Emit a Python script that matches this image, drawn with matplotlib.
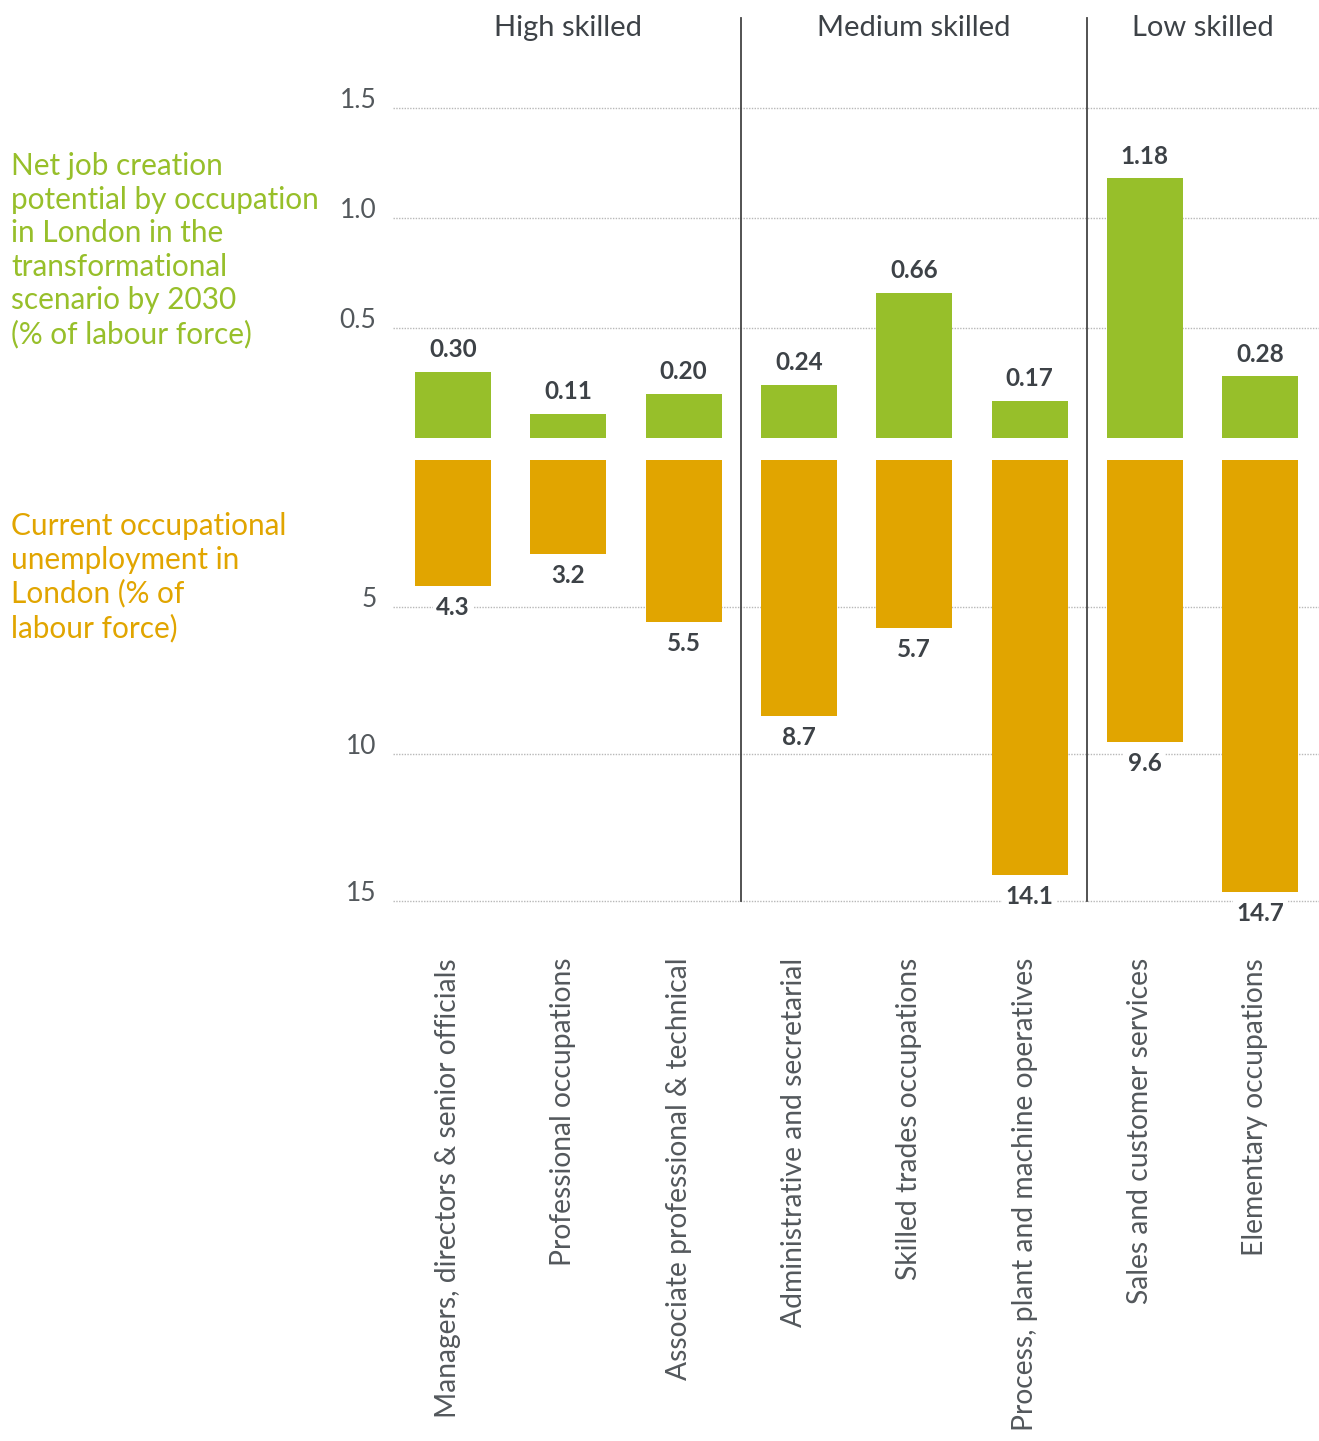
import matplotlib
matplotlib.use("Agg")
import matplotlib.pyplot as plt
from matplotlib.lines import Line2D
import numpy as np

plt.rcParams['font.family'] = ['Lato', 'DejaVu Sans']

categories = ["Managers, directors & senior officials", "Professional occupations",
              "Associate professional & technical", "Administrative and secretarial",
              "Skilled trades occupations", "Process, plant and machine operatives",
              "Sales and customer services", "Elementary occupations"]
job_creation = [0.30, 0.11, 0.20, 0.24, 0.66, 0.17, 1.18, 0.28]
job_labels = ["0.30", "0.11", "0.20", "0.24", "0.66", "0.17", "1.18", "0.28"]
unemployment = [4.3, 3.2, 5.5, 8.7, 5.7, 14.1, 9.6, 14.7]
unemp_labels = ["4.3", "3.2", "5.5", "8.7", "5.7", "14.1", "9.6", "14.7"]
groups = ["High skilled", "Medium skilled", "Low skilled"]
group_sizes = [3, 3, 2]
top_ticks = [0.5, 1.0, 1.5]
top_ticklabels = ["0.5", "1.0", "1.5"]
bot_ticks = [5, 10, 15]
bot_ticklabels = ["5", "10", "15"]

GREEN = "#97bf2a"
ORANGE = "#e1a500"
DARK = "#3d4247"
GRAY = "#53585c"

W, H = 1319, 1441
fig = plt.figure(figsize=(W / 100, H / 100), dpi=100)

def fx(px):
    return px / W

def fy(py):
    return 1 - py / H

ax_left, ax_right = 393, 1319
xlim = ((393 - 453) / 115.3, (1319 - 453) / 115.3)

# top axes: y=0 at 438 px, 220 px per unit
top_bottom_px, top_top_px = 438, 60
top_ymax = (438 - 60) / 220.0
ax1 = fig.add_axes([fx(ax_left), fy(top_bottom_px), fx(ax_right - ax_left),
                    (top_bottom_px - top_top_px) / H])
# bottom axes: y=0 at 460 px, 29.4 px per unit
bot_px = 905
bot_ymax = (bot_px - 460) / 29.4
ax2 = fig.add_axes([fx(ax_left), fy(bot_px), fx(ax_right - ax_left), (bot_px - 460) / H])

x = np.arange(len(categories))
bw = 76 / 115.3

for ax in (ax1, ax2):
    ax.set_xlim(*xlim)
    for s in ax.spines.values():
        s.set_visible(False)
    ax.tick_params(axis='both', length=0)
    ax.set_xticks([])
    ax.set_axisbelow(True)
    ax.grid(axis='y', color="#b8b8b8", linestyle=(0, (1, 1)), linewidth=1.0)

ax1.set_ylim(0, top_ymax)
ax1.set_yticks(top_ticks)
ax1.set_yticklabels(top_ticklabels)
ax2.set_ylim(bot_ymax, 0)
ax2.set_yticks(bot_ticks)
ax2.set_yticklabels(bot_ticklabels)
for ax in (ax1, ax2):
    ax.tick_params(axis='y', pad=12, labelsize=19, labelcolor=GRAY)
    for lab in ax.get_yticklabels():
        lab.set_verticalalignment('baseline')
        lab.set_fontweight('normal')

ax1.bar(x, job_creation, width=bw, color=GREEN, zorder=3)
ax2.bar(x, unemployment, width=bw, color=ORANGE, zorder=3)

for xi, v, lab in zip(x, job_creation, job_labels):
    ax1.annotate(lab, (xi, v), xytext=(0, 16), textcoords='offset points',
                 ha='center', va='center', fontsize=17.5, color=DARK, fontweight='bold',
                 annotation_clip=False, zorder=5,
                 bbox=dict(boxstyle='square,pad=0.15', fc='white', ec='none'))
for xi, v, lab in zip(x, unemployment, unemp_labels):
    ax2.annotate(lab, (xi, v), xytext=(0, -15.5), textcoords='offset points',
                 ha='center', va='center', fontsize=17.5, color=DARK, fontweight='bold',
                 annotation_clip=False, zorder=5,
                 bbox=dict(boxstyle='square,pad=0.15', fc='white', ec='none'))

# category labels
for xi, c in zip(x, categories):
    xd = ax2.transData.transform((xi, 0))[0]
    fig.text(xd / W - 5 / W, fy(958), c, rotation=90, ha='center', va='top',
             fontsize=20.3, color=GRAY, fontweight='normal')

# group separators and headers
start = 0
seps = []
for g, n in zip(groups, group_sizes):
    left = start - 0.5
    cx = (start + start + n - 1) / 2
    xd = ax1.transData.transform((cx, 0))[0]
    fig.text(xd / W, fy(28), g, ha='center', va='center', fontsize=21, color=DARK)
    if start > 0:
        seps.append(left)
    start += n
for s in seps:
    xd = ax1.transData.transform((s, 0))[0]
    fig.add_artist(Line2D([xd / W, xd / W], [fy(18), fy(901)], color="#444444",
                          linewidth=1.3, zorder=4))

green_text = ("Net job creation\npotential by occupation\nin London in the\n"
              "transformational\nscenario by 2030\n(% of labour force)")
orange_text = "Current occupational\nunemployment in\nLondon (% of\nlabour force)"
fig.text(fx(11), fy(152), green_text, ha='left', va='top', fontsize=21.4,
         color=GREEN, linespacing=1.24)
fig.text(fx(11), fy(512), orange_text, ha='left', va='top', fontsize=21.4,
         color=ORANGE, linespacing=1.24)

fig.savefig("out.png", dpi=100, facecolor='white')
